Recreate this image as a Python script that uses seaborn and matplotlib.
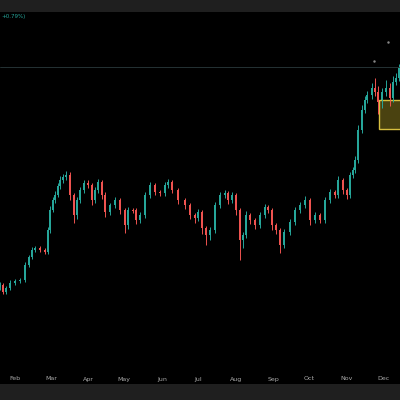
import numpy as np
import matplotlib
matplotlib.use("Agg")
import matplotlib.pyplot as plt
import seaborn as sns
from matplotlib.patches import Rectangle

# x in screen px along time axis, close level read in screen px (smaller = higher price)
xs = [0, 3, 6, 10, 15, 20, 25, 29, 32, 35, 40, 45, 48, 50, 53, 55, 58, 60, 63, 66, 70, 74, 77, 80,
      84, 88, 92, 95, 98, 102, 105, 110, 115, 120, 125, 128, 133, 136, 140, 145, 150, 155, 160,
      165, 168, 172, 178, 185, 190, 195, 198, 202, 206, 210, 215, 220, 225, 228, 232, 236, 240,
      243, 246, 250, 255, 260, 265, 268, 272, 276, 280, 284, 290, 295, 300, 305, 310, 315, 320,
      325, 330, 335, 338, 343, 347, 350, 353, 355, 358, 362, 365, 367, 372, 375, 378, 382, 386,
      390, 393, 396, 399]
closes = [285, 292, 288, 283, 281, 280, 265, 257, 250, 248, 250, 252, 230, 210, 200, 195, 186, 180,
          177, 175, 195, 215, 200, 190, 183, 185, 200, 190, 182, 195, 212, 205, 200, 210, 225,
          210, 210, 220, 215, 195, 185, 192, 193, 185, 182, 190, 200, 205, 215, 218, 212, 228,
          235, 230, 205, 195, 193, 200, 195, 210, 240, 235, 215, 220, 225, 215, 207, 210, 225,
          230, 245, 232, 222, 210, 205, 200, 220, 215, 220, 200, 192, 195, 180, 190, 195, 175,
          170, 160, 130, 110, 100, 95, 88, 92, 102, 92, 88, 98, 82, 78, 68]
wicks_up = [3, 2, 2, 3, 2, 2, 3, 2, 3, 2, 2, 2, 3, 4, 3, 4, 3, 4, 3, 4, 3, 2, 3, 3, 3, 3, 2, 3,
            3, 2, 3, 2, 3, 2, 2, 3, 2, 2, 3, 3, 3, 2, 2, 3, 3, 2, 2, 2, 2, 2, 3, 2, 2, 3, 3, 3,
            3, 2, 3, 2, 2, 3, 4, 2, 2, 3, 3, 2, 2, 2, 2, 3, 3, 3, 3, 4, 2, 3, 2, 3, 3, 2, 4, 2,
            2, 3, 3, 4, 5, 5, 4, 4, 5, 10, 6, 4, 8, 5, 6, 5, 4]
wicks_dn = [3, 2, 2, 2, 2, 2, 2, 2, 2, 2, 2, 2, 2, 3, 2, 3, 2, 3, 3, 3, 5, 8, 4, 3, 3, 3, 5, 3,
            3, 4, 5, 3, 3, 4, 8, 4, 3, 4, 3, 3, 3, 3, 3, 3, 3, 3, 4, 4, 4, 5, 3, 6, 10, 5, 3, 3,
            3, 4, 3, 5, 20, 8, 3, 4, 4, 3, 3, 3, 5, 4, 8, 3, 3, 3, 3, 3, 5, 3, 3, 3, 3, 3, 3, 4,
            4, 3, 3, 3, 3, 3, 3, 3, 4, 4, 12, 6, 4, 8, 4, 3, 3]

months = ["Feb", "Mar", "Apr", "May", "Jun", "Jul", "Aug", "Sep", "Oct", "Nov", "Dec"]
month_x = [15, 51, 88, 124, 162, 198, 236, 273, 309, 347, 383]

sns.set_theme(style="dark", rc={"axes.facecolor": "#000000", "figure.facecolor": "#1f1f1f"})
plt.rcParams['font.family'] = ['DejaVu Sans']

fig = plt.figure(figsize=(4, 4), dpi=100)
ax = fig.add_axes([0, 16 / 400, 1, 372 / 400])
ax.set_xlim(0, 400)
ax.set_ylim(384, 12)

up_c, dn_c = "#26a69a", "#ef5350"
opens = [closes[0] + 2] + closes[:-1]
for x, o, c, wu, wd in zip(xs, opens, closes, wicks_up, wicks_dn):
    col = up_c if c < o else dn_c
    top, bot = min(o, c), max(o, c)
    ax.vlines(x, top - wu, bot + wd, color=col, lw=0.7)
    ax.add_patch(Rectangle((x - 1, top), 2, max(bot - top, 0.8), color=col, lw=0))

ax.axhline(67, color="#2a3a3c", lw=0.6)
ax.add_patch(Rectangle((379, 100), 25, 29, facecolor="#4a4210", edgecolor="#d8c040", lw=1))
ax.plot([374, 388], [61, 42], ".", color="#888888", ms=1.5)
ax.text(1, 17, "+0.79%)", color="#26a69a", fontsize=4, va="center")

for m, mx in zip(months, month_x):
    ax.text(mx, 379, m, color="#aaaaaa", fontsize=4.5, ha="center", va="center")

ax.set_xticks([])
ax.set_yticks([])
for s in ax.spines.values():
    s.set_visible(False)

fig.savefig("out.png", dpi=100, facecolor=fig.get_facecolor())
